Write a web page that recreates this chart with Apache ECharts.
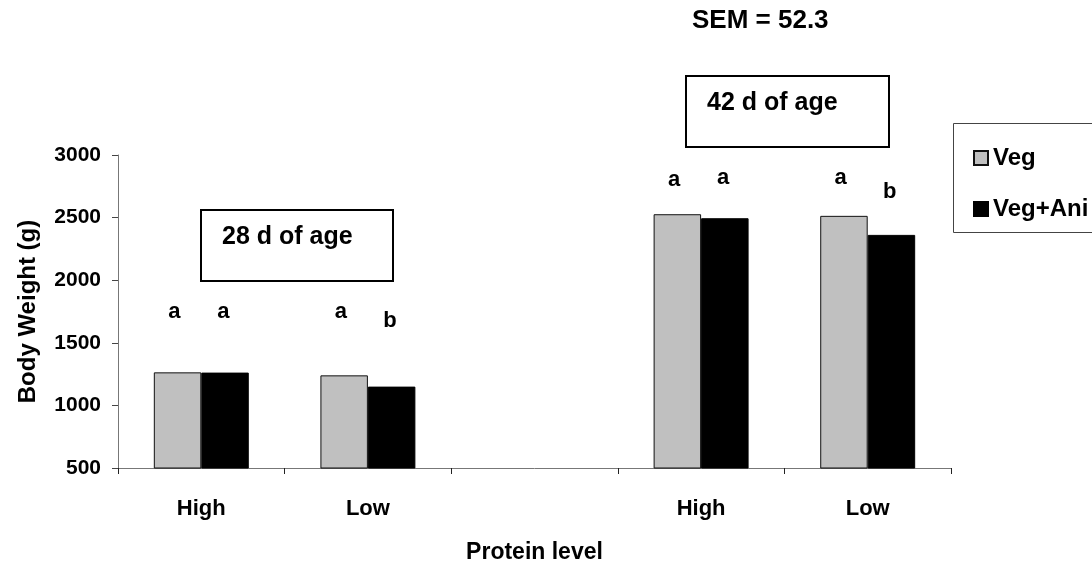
<!DOCTYPE html>
<html>
<head>
<meta charset="utf-8">
<script src="https://cdn.jsdelivr.net/npm/echarts@6/dist/echarts.min.js"></script>
<style>
html,body{margin:0;padding:0;background:#fff;}
#c{width:1092px;height:569px;}
</style>
</head>
<body>
<div id="c"></div>
<script>
// ---- data ----
var categories = ['High', 'Low', '', 'High', 'Low'];
var vegValues = [1264, 1240, null, 2527, 2514];
var vegAniValues = [1262, 1150, null, 2495, 2362];
var vegLetters = ['a', 'a', '', 'a', 'a'];
var vegAniLetters = ['a', 'b', '', 'a', 'b'];
// heights (in g units) at which the significance letters sit
var vegLetterHeights = [1656, 1656, null, 2711, 2731];
var vegAniLetterHeights = [1656, 1590, null, 2731, 2621];
var yTicks = { min: 500, max: 3000, interval: 500 };
var seriesNames = ['Veg', 'Veg+Ani'];
var semText = 'SEM = 52.3';
var boxTexts = ['28 d of age', '42 d of age'];

var FONT = "'Liberation Sans', Arial, sans-serif";
var chart = echarts.init(document.getElementById('c'), null, { renderer: 'canvas' });

function letterLabel(letters, dx) {
  return {
    show: true,
    position: 'top',
    distance: 0,
    offset: [dx, 0],
    formatter: function (p) { return letters[p.dataIndex]; },
    color: '#000',
    opacity: 1,
    fontFamily: FONT,
    fontWeight: 'bold',
    fontSize: 22
  };
}

var option = {
  animation: false,
  backgroundColor: '#fff',
  grid: { left: 118, right: 141, top: 155, bottom: 101, containLabel: false, outerBoundsMode: 'none' },
  legend: {
    data: seriesNames,
    orient: 'vertical',
    left: 968,
    top: 141,
    itemWidth: 14,
    itemHeight: 14,
    itemGap: 27,
    icon: 'rect',
    textStyle: { fontFamily: FONT, fontWeight: 'bold', fontSize: 24, color: '#000' }
  },
  xAxis: {
    type: 'category',
    data: categories,
    boundaryGap: true,
    axisLine: { lineStyle: { color: '#777', width: 1 } },
    axisTick: { show: true, length: 6, lineStyle: { color: '#222' } },
    axisLabel: { margin: 30, fontFamily: FONT, fontWeight: 'bold', fontSize: 22, color: '#000' },
    name: 'Protein level',
    nameLocation: 'middle',
    nameGap: 73,
    nameTextStyle: { fontFamily: FONT, fontWeight: 'bold', fontSize: 23, color: '#000' }
  },
  yAxis: {
    type: 'value',
    min: yTicks.min,
    max: yTicks.max,
    interval: yTicks.interval,
    splitLine: { show: false },
    axisLine: { show: true, lineStyle: { color: '#777', width: 1 } },
    axisTick: { show: true, length: 6, lineStyle: { color: '#444' } },
    axisLabel: { margin: 17, fontFamily: FONT, fontWeight: 'bold', fontSize: 21, color: '#000',
      formatter: function (v) { return String(v); } },
    name: 'Body Weight (g)',
    nameLocation: 'middle',
    nameGap: 78,
    nameTextStyle: { fontFamily: FONT, fontWeight: 'bold', fontSize: 24, color: '#000' }
  },
  series: [
    {
      name: seriesNames[0],
      type: 'bar',
      data: vegValues,
      barGap: '0%',
      barCategoryGap: '43%',
      itemStyle: { color: '#C0C0C0', borderColor: '#111', borderWidth: 1 }
    },
    {
      name: seriesNames[1],
      type: 'bar',
      data: vegAniValues,
      itemStyle: { color: '#000', borderColor: '#000', borderWidth: 1 }
    },
    {
      name: 'vegLetters',
      type: 'scatter',
      data: vegLetterHeights,
      symbolSize: 0,
      silent: true,
      itemStyle: { opacity: 1 },
      label: letterLabel(vegLetters, -27)
    },
    {
      name: 'vegAniLetters',
      type: 'scatter',
      data: vegAniLetterHeights,
      symbolSize: 0,
      silent: true,
      itemStyle: { opacity: 1 },
      label: letterLabel(vegAniLetters, 22)
    }
  ],
  graphic: [
    { type: 'rect', shape: { x: 953.5, y: 123.5, width: 160, height: 109 },
      style: { fill: 'none', stroke: '#444', lineWidth: 1 }, z: 1 },
    { type: 'rect', shape: { x: 201, y: 210, width: 192, height: 71 },
      style: { fill: '#fff', stroke: '#000', lineWidth: 2 }, z: 10 },
    { type: 'text', x: 222, y: 237, z: 11,
      style: { text: boxTexts[0], fill: '#000', font: 'bold 25px ' + FONT, textVerticalAlign: 'middle' } },
    { type: 'rect', shape: { x: 686, y: 76, width: 203, height: 71 },
      style: { fill: '#fff', stroke: '#000', lineWidth: 2 }, z: 10 },
    { type: 'text', x: 707, y: 103, z: 11,
      style: { text: boxTexts[1], fill: '#000', font: 'bold 25px ' + FONT, textVerticalAlign: 'middle' } },
    { type: 'text', x: 692, y: 21, z: 11,
      style: { text: semText, fill: '#000', font: 'bold 26px ' + FONT, textVerticalAlign: 'middle' } }
  ]
};
chart.setOption(option);
</script>
</body>
</html>
